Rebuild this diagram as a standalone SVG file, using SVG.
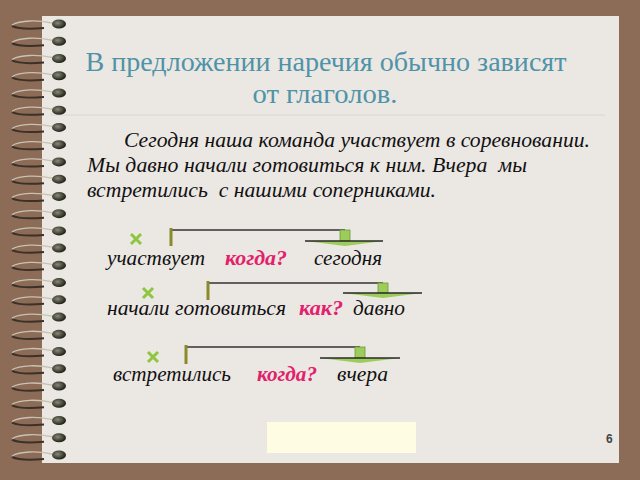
<svg xmlns="http://www.w3.org/2000/svg" xmlns:xlink="http://www.w3.org/1999/xlink" width="640" height="480" viewBox="0 0 640 480">
<defs>
<style>
text{font-family:'Liberation Serif','Times New Roman',serif}
.title{font-size:28px;fill:#4f93a8;text-anchor:middle}
.body{font-style:italic;font-size:21px;fill:#111}
.q{font-style:italic;font-weight:bold;font-size:21px;fill:#e2206c}
.bar{stroke:#8a8a2a;stroke-width:3;fill:none}
.line{stroke:#333;stroke-width:1.5;fill:none}
.stub{fill:#9ccc5a;stroke:#6f9a3a;stroke-width:0.8}
.tri{fill:#9ccc5a;stroke:none}
.triedge{stroke:#2a2a2a;stroke-width:1.5}
.x{stroke:#8ec63f;stroke-width:3;stroke-linecap:butt}
.wire{fill:none;stroke:#3b3128;stroke-width:2}
.wirehi{fill:none;stroke:#c9c2b4;stroke-width:1.3}
</style>
<radialGradient id="blob" cx="0.4" cy="0.4" r="0.6">
<stop offset="0" stop-color="#8a8a78"/>
<stop offset="1" stop-color="#1f2118"/>
</radialGradient>
<g id="ring">
<path class="wire" d="M44 4 C32 5, 18 5, 12 2"/>
<path class="wirehi" d="M52 -1 C38 -4, 20 -4, 12 1"/>
<ellipse cx="59" cy="0" rx="7" ry="4.5" fill="url(#blob)"/>
</g>
</defs>
<rect x="0" y="0" width="640" height="480" fill="#8c6b57"/>
<rect x="42" y="16" width="577" height="447" fill="#ebe7e3"/>
<line x1="50" y1="115" x2="605" y2="115" stroke="#dbd6d1" stroke-width="1"/>

<g id="spiral">
<use xlink:href="#ring" y="24"/>
<use xlink:href="#ring" y="41.24"/>
<use xlink:href="#ring" y="58.48"/>
<use xlink:href="#ring" y="75.72"/>
<use xlink:href="#ring" y="92.96"/>
<use xlink:href="#ring" y="110.2"/>
<use xlink:href="#ring" y="127.44"/>
<use xlink:href="#ring" y="144.68"/>
<use xlink:href="#ring" y="161.92"/>
<use xlink:href="#ring" y="179.16"/>
<use xlink:href="#ring" y="196.4"/>
<use xlink:href="#ring" y="213.64"/>
<use xlink:href="#ring" y="230.88"/>
<use xlink:href="#ring" y="248.12"/>
<use xlink:href="#ring" y="265.36"/>
<use xlink:href="#ring" y="282.6"/>
<use xlink:href="#ring" y="299.84"/>
<use xlink:href="#ring" y="317.08"/>
<use xlink:href="#ring" y="334.32"/>
<use xlink:href="#ring" y="351.56"/>
<use xlink:href="#ring" y="368.8"/>
<use xlink:href="#ring" y="386.04"/>
<use xlink:href="#ring" y="403.28"/>
<use xlink:href="#ring" y="420.52"/>
<use xlink:href="#ring" y="437.76"/>
<use xlink:href="#ring" y="455"/>
</g>

<g id="title">
<text class="title" x="326" y="71" textLength="481" lengthAdjust="spacingAndGlyphs">В предложении наречия обычно зависят</text>
<text class="title" x="325" y="103" textLength="145" lengthAdjust="spacingAndGlyphs">от глаголов.</text>
</g>

<g id="paragraph">
<text class="body" x="124" y="147" textLength="466" lengthAdjust="spacingAndGlyphs">Сегодня наша команда участвует в соревновании.</text>
<text class="body" x="87" y="172" xml:space="preserve" textLength="440" lengthAdjust="spacingAndGlyphs">Мы давно начали готовиться к ним. Вчера  мы</text>
<text class="body" x="87" y="197" xml:space="preserve" textLength="349" lengthAdjust="spacingAndGlyphs">встретились  с нашими соперниками.</text>
</g>

<g id="connectors">
<path class="line" d="M171 230 H345"/>
<rect class="stub" x="340" y="230" width="10" height="11"/>
<polygon class="tri" points="305,241 383,241 345,246"/>
<line class="triedge" x1="305" y1="241" x2="383" y2="241"/>
<line class="bar" x1="171" y1="228" x2="171" y2="246"/>

<path class="line" d="M208 283 H383"/>
<rect class="stub" x="378" y="283" width="10" height="10"/>
<polygon class="tri" points="343,293 422,293 383,298"/>
<line class="triedge" x1="343" y1="293" x2="422" y2="293"/>
<line class="bar" x1="208" y1="281" x2="208" y2="300"/>

<path class="line" d="M186 347 H360"/>
<rect class="stub" x="355" y="347" width="10" height="11"/>
<polygon class="tri" points="320,358 400,358 360,363"/>
<line class="triedge" x1="320" y1="358" x2="400" y2="358"/>
<line class="bar" x1="186" y1="345" x2="186" y2="364"/>
</g>

<g id="row1">
<path class="x" d="M131 234 L141 244 M141 234 L131 244"/>
<text class="body" x="107" y="265" textLength="98" lengthAdjust="spacingAndGlyphs">участвует</text>
<text class="q" x="225" y="265" textLength="62" lengthAdjust="spacingAndGlyphs">когда?</text>
<text class="body" x="314" y="265" textLength="68" lengthAdjust="spacingAndGlyphs">сегодня</text>
</g>
<g id="row2">
<path class="x" d="M143 288 L153 298 M153 288 L143 298"/>
<text class="body" x="107" y="315" textLength="179" lengthAdjust="spacingAndGlyphs">начали готовиться</text>
<text class="q" x="299" y="315" textLength="44" lengthAdjust="spacingAndGlyphs">как?</text>
<text class="body" x="353" y="315" textLength="52" lengthAdjust="spacingAndGlyphs">давно</text>
</g>
<g id="row3">
<path class="x" d="M148 352 L158 362 M158 352 L148 362"/>
<text class="body" x="113" y="381" textLength="118" lengthAdjust="spacingAndGlyphs">встретились</text>
<text class="q" x="257" y="381" textLength="60" lengthAdjust="spacingAndGlyphs">когда?</text>
<text class="body" x="337" y="381" textLength="51" lengthAdjust="spacingAndGlyphs">вчера</text>
</g>

<rect id="note" x="267" y="422" width="149" height="31" fill="#fefde3"/>
<text id="pagenum" x="606" y="443" style="font-family:'Liberation Sans',Arial,sans-serif" font-size="12" font-weight="bold" fill="#444">6</text>
</svg>
